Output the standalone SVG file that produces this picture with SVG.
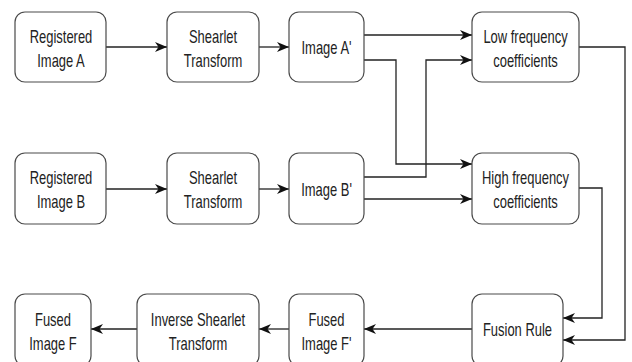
<svg xmlns="http://www.w3.org/2000/svg" width="632" height="362" viewBox="0 0 632 362">
<style>
.box{fill:#fff;stroke:#4a4a4a;stroke-width:1.2}
.t{font-family:"Liberation Sans",Arial,sans-serif;font-size:18px;fill:#222;text-anchor:middle}
.c{fill:none;stroke:#222;stroke-width:1.3}
</style>
<defs>
<marker id="ah" markerUnits="userSpaceOnUse" markerWidth="14" markerHeight="12" refX="12" refY="6" orient="auto">
<path d="M0,1 L12,6 L0,11 L3.5,6 Z" fill="#111"/>
</marker>
</defs>
<rect width="632" height="362" fill="#fff"/>
<g id="connectors">
<path class="c" d="M106,47 H167" marker-end="url(#ah)"/>
<path class="c" d="M259,47 H289" marker-end="url(#ah)"/>
<path class="c" d="M364,35 H472" marker-end="url(#ah)"/>
<path class="c" d="M364,60 H396 V164 H472" marker-end="url(#ah)"/>
<path class="c" d="M364,177 H426 V60 H472" marker-end="url(#ah)"/>
<path class="c" d="M364,199 H472" marker-end="url(#ah)"/>
<path class="c" d="M106,189 H167" marker-end="url(#ah)"/>
<path class="c" d="M259,189 H289" marker-end="url(#ah)"/>
<path class="c" d="M579,47 H625 V340 H563" marker-end="url(#ah)"/>
<path class="c" d="M579,188 H602 V318 H563" marker-end="url(#ah)"/>
<path class="c" d="M472,329 H364" marker-end="url(#ah)"/>
<path class="c" d="M289,329 H259" marker-end="url(#ah)"/>
<path class="c" d="M137,329 H91" marker-end="url(#ah)"/>
</g>
<g id="regA">
<rect class="box" x="15" y="12" width="91" height="70" rx="10"/>
<text class="t" transform="translate(61,42.5) scale(0.72,1)">Registered</text>
<text class="t" transform="translate(61,66.5) scale(0.72,1)">Image A</text>
</g>
<g id="shearA">
<rect class="box" x="167" y="12" width="92" height="70" rx="10"/>
<text class="t" transform="translate(213,42.5) scale(0.72,1)">Shearlet</text>
<text class="t" transform="translate(213,66.5) scale(0.72,1)">Transform</text>
</g>
<g id="imgA">
<rect class="box" x="289" y="12" width="75" height="70" rx="10"/>
<text class="t" transform="translate(326.5,54) scale(0.72,1)">Image A'</text>
</g>
<g id="low">
<rect class="box" x="472" y="12" width="107" height="70" rx="10"/>
<text class="t" transform="translate(525.5,43) scale(0.72,1)">Low frequency</text>
<text class="t" transform="translate(525.5,66.5) scale(0.72,1)">coefficients</text>
</g>
<g id="regB">
<rect class="box" x="15" y="153" width="91" height="71" rx="10"/>
<text class="t" transform="translate(61,184) scale(0.72,1)">Registered</text>
<text class="t" transform="translate(61,207.5) scale(0.72,1)">Image B</text>
</g>
<g id="shearB">
<rect class="box" x="167" y="153" width="92" height="71" rx="10"/>
<text class="t" transform="translate(213,184) scale(0.72,1)">Shearlet</text>
<text class="t" transform="translate(213,207.5) scale(0.72,1)">Transform</text>
</g>
<g id="imgB">
<rect class="box" x="289" y="153" width="75" height="71" rx="10"/>
<text class="t" transform="translate(326.5,195.5) scale(0.72,1)">Image B'</text>
</g>
<g id="high">
<rect class="box" x="472" y="153" width="107" height="71" rx="10"/>
<text class="t" transform="translate(525.5,184) scale(0.72,1)">High frequency</text>
<text class="t" transform="translate(525.5,207.5) scale(0.72,1)">coefficients</text>
</g>
<g id="fusedF">
<rect class="box" x="15" y="294" width="76" height="72" rx="10"/>
<text class="t" transform="translate(53,326) scale(0.72,1)">Fused</text>
<text class="t" transform="translate(53,350) scale(0.72,1)">Image F</text>
</g>
<g id="inverse">
<rect class="box" x="137" y="294" width="122" height="72" rx="10"/>
<text class="t" transform="translate(198,326) scale(0.72,1)">Inverse Shearlet</text>
<text class="t" transform="translate(198,350) scale(0.72,1)">Transform</text>
</g>
<g id="fusedFp">
<rect class="box" x="289" y="294" width="75" height="72" rx="10"/>
<text class="t" transform="translate(326.5,326) scale(0.72,1)">Fused</text>
<text class="t" transform="translate(326.5,350) scale(0.72,1)">Image F'</text>
</g>
<g id="fusion">
<rect class="box" x="472" y="294" width="91" height="72" rx="10"/>
<text class="t" transform="translate(517.5,336) scale(0.72,1)">Fusion Rule</text>
</g>
</svg>
